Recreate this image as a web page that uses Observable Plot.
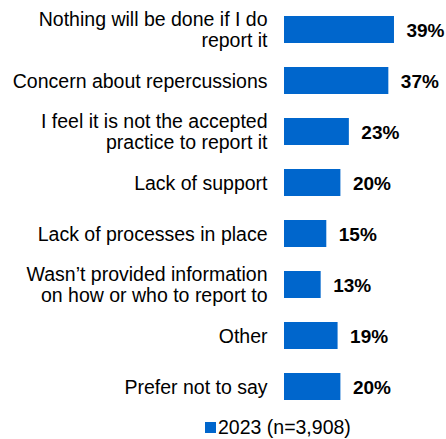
<!DOCTYPE html>
<html>
<head>
<meta charset="utf-8">
<script src="https://cdn.jsdelivr.net/npm/d3@7"></script>
<script src="https://cdn.jsdelivr.net/npm/@observablehq/plot@0.6"></script>
<style>
  html, body { margin: 0; padding: 0; background: #fff; }
  body { width: 446px; height: 439px; overflow: hidden; font-family: "Liberation Sans", Arial, sans-serif; }
  #legend { display: flex; align-items: center; padding-left: 205px; margin-top: 13px; font-size: 19.5px; color: #000; line-height: 1; }
  #legend .sw { width: 11px; height: 11px; background: #0066cc; margin-right: 2px; }
</style>
</head>
<body>
<div id="chart"></div>
<div id="legend"><span class="sw"></span><span id="legtext"></span></div>
<script>
const categories = [
  "Nothing will be done if I do\nreport it",
  "Concern about repercussions",
  "I feel it is not the accepted\npractice to report it",
  "Lack of support",
  "Lack of processes in place",
  "Wasn’t provided information\non how or who to report to",
  "Other",
  "Prefer not to say"
];
const values2023 = [39, 37, 23, 20, 15, 13, 19, 20];
const seriesName = "2023 (n=3,908)";

const data = categories.map((c, i) => ({category: c, value: values2023[i]}));

const chart = Plot.plot({
  width: 446,
  height: 405,
  marginLeft: 284,
  marginRight: 21,
  marginTop: 10,
  marginBottom: 0,
  style: {fontFamily: "'Liberation Sans', Arial, sans-serif", background: "#fff"},
  x: {domain: [0, 50], axis: null},
  y: {domain: categories, paddingInner: 0.478, paddingOuter: 0.1, axis: null},
  marks: [
    Plot.barX(data, {x: "value", y: "category", fill: "#0066cc"}),
    Plot.text(data, {x: 0, y: "category", text: "category", textAnchor: "end", dx: -17,
      fontSize: 19.5, lineHeight: 1.07, fill: "#000"}),
    Plot.text(data, {x: "value", y: "category", text: d => d.value + "%", textAnchor: "start", dx: 12, dy: 1,
      fontSize: 19, fontWeight: "bold", fill: "#000"})
  ]
});
document.getElementById("chart").appendChild(chart);
document.getElementById("legtext").textContent = seriesName;
</script>
</body>
</html>
